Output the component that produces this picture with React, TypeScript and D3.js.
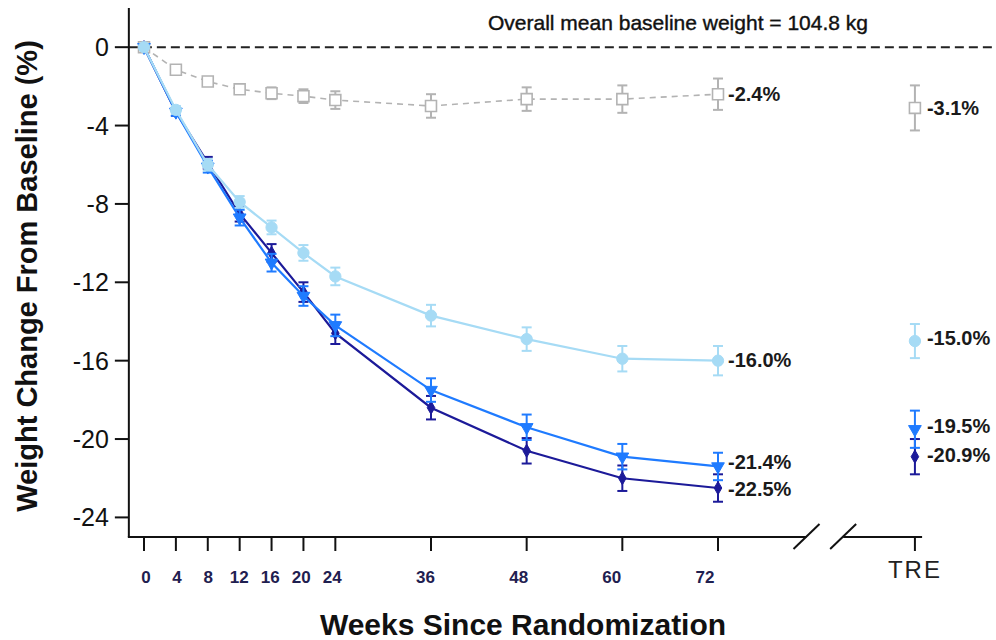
import React from "react";
import * as d3 from "d3";

// Study visit weeks and mean percent weight change per arm
const WEEKS = [0, 4, 8, 12, 16, 20, 24, 36, 48, 60, 72];
const X_TICKS = [0, 4, 8, 12, 16, 20, 24, 36, 48, 60, 72];
const Y_TICKS = [0, -4, -8, -12, -16, -20, -24];

const placebo = [0, -1.15, -1.75, -2.15, -2.35, -2.5, -2.7, -3.0, -2.65, -2.65, -2.4];
const placeboErr = [0, 0.12, 0.15, 0.2, 0.3, 0.35, 0.45, 0.6, 0.6, 0.7, 0.8];
const lowDose = [0, -3.2, -6.0, -7.9, -9.2, -10.5, -11.7, -13.7, -14.9, -15.9, -16.0];
const lowDoseErr = [0, 0.2, 0.3, 0.3, 0.35, 0.4, 0.45, 0.55, 0.6, 0.65, 0.75];
const midDose = [0, -3.3, -6.1, -8.7, -11.0, -12.7, -14.2, -17.5, -19.4, -20.9, -21.4];
const midDoseErr = [0, 0.2, 0.3, 0.4, 0.45, 0.5, 0.55, 0.6, 0.65, 0.65, 0.7];
const highDose = [0, -3.3, -5.9, -8.5, -10.5, -12.5, -14.6, -18.4, -20.6, -22.0, -22.5];
const highDoseErr = [0, 0.2, 0.3, 0.4, 0.45, 0.5, 0.55, 0.6, 0.65, 0.65, 0.7];

// Treatment-regimen estimand values shown past the axis break
const treValues = [-3.1, -15.0, -19.5, -20.9];
const treErr = [1.15, 0.87, 0.95, 0.9];

// Labels at week 72 and TRE
const endLabels = ["-2.4%", "-16.0%", "-21.4%", "-22.5%"];
const treLabels = ["-3.1%", "-15.0%", "-19.5%", "-20.9%"];

const TITLE = "Overall mean baseline weight = 104.8 kg";
const X_TITLE = "Weeks Since Randomization";
const Y_TITLE = "Weight Change From Baseline (%)";

const FONT = "'Liberation Sans', Arial, Helvetica, sans-serif";

// positions (in week units) of the axis break and the TRE column
const BREAK_A = 83.1;
const BREAK_B = 87.7;
const TRE_POS = 96.7;
const AXIS_END = 97.6;

type Arm = {
  values: number[];
  err: number[];
  color: string;
  symbol: d3.SymbolType;
  size: number;
  rotate: number;
  open: boolean;
  dashed: boolean;
  width: number;
  labelDy: number;
  treLabelDy: number;
};

const arms: Arm[] = [
  { values: placebo, err: placeboErr, color: "#b3b3b3", symbol: d3.symbolSquare, size: 120, rotate: 0, open: true, dashed: true, width: 1.6, labelDy: 0, treLabelDy: 0 },
  { values: highDose, err: highDoseErr, color: "#1c1a99", symbol: d3.symbolDiamond, size: 50, rotate: 0, open: false, dashed: false, width: 2.2, labelDy: 1, treLabelDy: -2 },
  { values: midDose, err: midDoseErr, color: "#1f7bff", symbol: d3.symbolTriangle, size: 70, rotate: 180, open: false, dashed: false, width: 2.2, labelDy: -5, treLabelDy: -3 },
  { values: lowDose, err: lowDoseErr, color: "#a6dbf5", symbol: d3.symbolCircle, size: 100, rotate: 0, open: false, dashed: false, width: 2.2, labelDy: -1, treLabelDy: -3 },
];
// label order for each arm index in `arms`
const labelIndex = [0, 3, 2, 1];

export default function App() {
  const W = 996;
  const H = 640;
  const x = d3.scaleLinear().domain([0, 72]).range([144, 718]);
  const y = d3.scaleLinear().domain([2, -25]).range([8, 537]);
  const axisX = x(-1.9);
  const axisY = y(-25);
  // tick labels sit on a slightly compressed scale
  const xl = d3.scaleLinear().domain([0, 72]).range([146, 705]);

  const line = d3
    .line<[number, number]>()
    .x((d) => x(d[0]))
    .y((d) => y(d[1]));

  const capW = 5;

  const renderErr = (cx: number, v: number, e: number, color: string, key: string) => {
    if (e <= 0) return null;
    const y1 = y(v + e);
    const y2 = y(v - e);
    return (
      <g key={key} stroke={color} strokeWidth={2}>
        <line x1={cx} x2={cx} y1={y1} y2={y2} />
        <line x1={cx - capW} x2={cx + capW} y1={y1} y2={y1} />
        <line x1={cx - capW} x2={cx + capW} y1={y2} y2={y2} />
      </g>
    );
  };

  const renderMarker = (cx: number, cy: number, a: Arm, key: string) => {
    const path = d3.symbol().type(a.symbol).size(a.size)() || "";
    return (
      <path
        key={key}
        d={path}
        transform={`translate(${cx},${cy}) rotate(${a.rotate})`}
        fill={a.open ? "#fff" : a.color}
        stroke={a.color}
        strokeWidth={a.open ? 1.6 : 1}
      />
    );
  };

  const slash = (pos: number, key: string) => {
    const cx = x(pos);
    return <line key={key} x1={cx - 13} y1={axisY + 12} x2={cx + 13} y2={axisY - 13} stroke="#111" strokeWidth={2} />;
  };

  return (
    <svg
      width={W}
      height={H}
      style={{ position: "absolute", left: 0, top: 0, background: "#fff" }}
      fontFamily={FONT}
    >
      <rect width={W} height={H} fill="#fff" />

      {/* zero reference line */}
      <line x1={axisX} x2={992} y1={y(0)} y2={y(0)} stroke="#222" strokeWidth={2} strokeDasharray="9,5" />

      {/* y axis */}
      <line x1={axisX} x2={axisX} y1={y(2)} y2={axisY} stroke="#111" strokeWidth={2} />
      {Y_TICKS.map((t) => (
        <g key={`yt${t}`}>
          <line x1={axisX - 14} x2={axisX} y1={y(t)} y2={y(t)} stroke="#111" strokeWidth={2} />
          <text x={axisX - 20} y={y(t)} dy="0.36em" textAnchor="end" fontSize={25} fill="#111">
            {t}
          </text>
        </g>
      ))}

      {/* x axis with break */}
      <line x1={axisX - 1} x2={x(BREAK_A)} y1={axisY} y2={axisY} stroke="#111" strokeWidth={2} />
      <line x1={x(BREAK_B)} x2={x(AXIS_END)} y1={axisY} y2={axisY} stroke="#111" strokeWidth={2} />
      {slash(BREAK_A, "s1")}
      {slash(BREAK_B, "s2")}
      {X_TICKS.map((t) => (
        <g key={`xt${t}`}>
          <line x1={x(t)} x2={x(t)} y1={axisY} y2={axisY + 14} stroke="#111" strokeWidth={2} />
          <text x={xl(t)} y={583} textAnchor="middle" fontSize={17} fontWeight="bold" fill="#1f2050">
            {t}
          </text>
        </g>
      ))}
      <line x1={x(TRE_POS)} x2={x(TRE_POS)} y1={axisY} y2={axisY + 14} stroke="#111" strokeWidth={2} />
      <text x={x(TRE_POS)} y={578} textAnchor="middle" fontSize={24} letterSpacing={2} fill="#222">
        TRE
      </text>

      {/* titles */}
      <text x={678} y={30} textAnchor="middle" fontSize={21} fill="#111" stroke="#111" strokeWidth={0.4}>
        {TITLE}
      </text>
      <text x={523} y={635} textAnchor="middle" fontSize={30} fontWeight="bold" fill="#111">
        {X_TITLE}
      </text>
      <text
        transform={`translate(37, ${276}) rotate(-90)`}
        textAnchor="middle"
        fontSize={29}
        fontWeight="bold"
        fill="#111"
      >
        {Y_TITLE}
      </text>

      {/* series */}
      {arms.map((a, ai) => {
        const pts = WEEKS.map((w, i) => [w, a.values[i]] as [number, number]);
        return (
          <g key={`arm${ai}`}>
            <path
              d={line(pts) || ""}
              fill="none"
              stroke={a.color}
              strokeWidth={a.width}
              strokeDasharray={a.dashed ? "6,5" : undefined}
            />
            {WEEKS.map((w, i) => renderErr(x(w), a.values[i], a.err[i], a.color, `e${ai}-${i}`))}
            {WEEKS.map((w, i) => renderMarker(x(w), y(a.values[i]), a, `m${ai}-${i}`))}
            {renderErr(x(TRE_POS), treValues[labelIndex[ai]], treErr[labelIndex[ai]], a.color, `te${ai}`)}
            {renderMarker(x(TRE_POS), y(treValues[labelIndex[ai]]), a, `tm${ai}`)}
          </g>
        );
      })}

      {/* value labels */}
      {arms.map((a, ai) => (
        <g key={`lab${ai}`} fontSize={20} fontWeight="bold" fill="#1a1a1a">
          <text x={x(72) + 10} y={y(a.values[a.values.length - 1]) + a.labelDy} dy="0.36em">
            {endLabels[labelIndex[ai]]}
          </text>
          <text x={x(TRE_POS) + 12} y={y(treValues[labelIndex[ai]]) + a.treLabelDy} dy="0.36em">
            {treLabels[labelIndex[ai]]}
          </text>
        </g>
      ))}
    </svg>
  );
}
